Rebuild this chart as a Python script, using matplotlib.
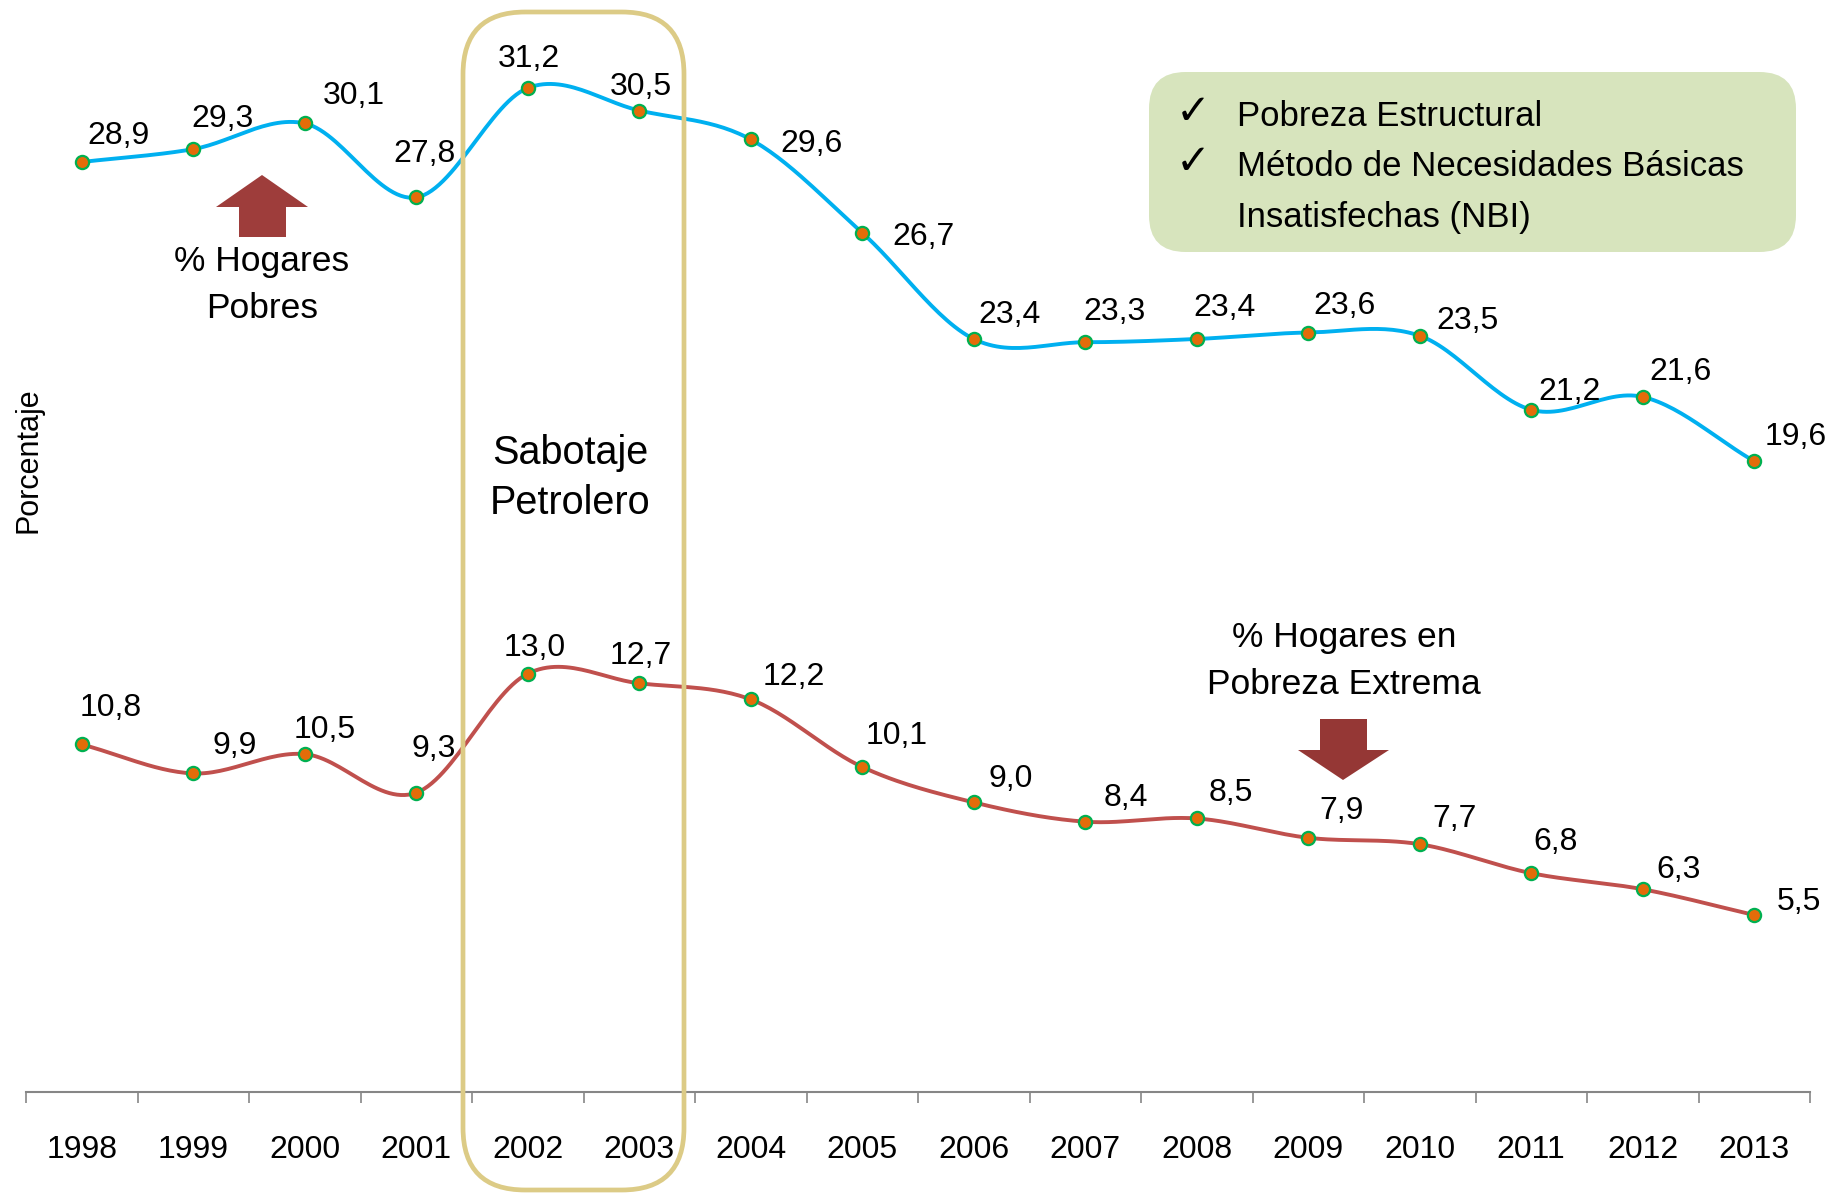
import numpy as np
import matplotlib
matplotlib.use("Agg")
import matplotlib.pyplot as plt
from matplotlib.patches import FancyBboxPatch, Polygon

plt.rcParams['font.family'] = ['Liberation Sans Narrow', 'Liberation Sans', 'DejaVu Sans']

years = ['1998', '1999', '2000', '2001', '2002', '2003', '2004', '2005',
         '2006', '2007', '2008', '2009', '2010', '2011', '2012', '2013']
pobres = [28.9, 29.3, 30.1, 27.8, 31.2, 30.5, 29.6, 26.7,
          23.4, 23.3, 23.4, 23.6, 23.5, 21.2, 21.6, 19.6]
extrema = [10.8, 9.9, 10.5, 9.3, 13.0, 12.7, 12.2, 10.1,
           9.0, 8.4, 8.5, 7.9, 7.7, 6.8, 6.3, 5.5]

# label offsets (pixels, right / up)
off_pobres = [(37, 26), (29, 30), (49, 27), (8, 43), (1, 29), (2, 24), (61, -5), (61, -4),
              (36, 24), (29, 30), (28, 31), (36, 27), (48, 15), (38, 18), (38, 25), (41, 24)]
off_extrema = [(29, 36), (41, 27), (20, 24), (17, 44), (7, 26), (1, 27), (43, 22), (34, 31),
               (37, 23), (41, 24), (34, 25), (33, 27), (35, 25), (24, 31), (36, 19), (45, 13)]

W, H = 1829, 1193
fig = plt.figure(figsize=(W / 100, H / 100), dpi=100)
ax = fig.add_axes([26 / W, 101 / H, (1810 - 26) / W, (H - 101) / H])


def smooth(y, n=30):
    # Catmull-Rom curve through the points (Excel style smoothed line)
    y = np.asarray(y, float)
    x = np.arange(len(y), dtype=float)
    px = np.concatenate([[2 * x[0] - x[1]], x, [2 * x[-1] - x[-2]]])
    py = np.concatenate([[2 * y[0] - y[1]], y, [2 * y[-1] - y[-2]]])
    xs, ys = [], []
    t = np.linspace(0, 1, n)
    for i in range(1, len(px) - 2):
        p0, p1, p2, p3 = px[i - 1], px[i], px[i + 1], px[i + 2]
        q0, q1, q2, q3 = py[i - 1], py[i], py[i + 1], py[i + 2]
        for a, b, c, d, out in ((p0, p1, p2, p3, xs), (q0, q1, q2, q3, ys)):
            out.extend(0.5 * (2 * b + (-a + c) * t + (2 * a - 5 * b + 4 * c - d) * t ** 2
                              + (-a + 3 * b - 3 * c + d) * t ** 3))
    return np.array(xs), np.array(ys)


x = np.arange(len(years))
for vals, col, offs in ((pobres, '#00B0F0', off_pobres), (extrema, '#C0504D', off_extrema)):
    sx, sy = smooth(vals)
    ax.plot(sx, sy, color=col, lw=2.8, zorder=3, solid_capstyle='round')
    ax.plot(x, vals, 'o', ms=9.5, mfc='#E36C09', mec='#00B050', mew=1.6, zorder=4)
    for xi, v, (dx, dy) in zip(x, vals, offs):
        ax.annotate(f'{v:.1f}'.replace('.', ','), (xi, v), xytext=(dx * 0.72, dy * 0.72),
                    textcoords='offset points', ha='center', va='center', fontsize=23, zorder=5)

ax.set_xlim(-0.5, len(years) - 0.5)
ax.set_ylim(0, 1092 / 32.18)
for s in ('top', 'right', 'left'):
    ax.spines[s].set_visible(False)
ax.spines['bottom'].set_color('#868686')
ax.spines['bottom'].set_linewidth(1.5)
ax.set_yticks([])
ax.set_xticks(np.arange(len(years) + 1) - 0.5)
ax.set_xticklabels([])
ax.set_xticks(x, minor=True)
ax.set_xticklabels(years, minor=True, fontsize=23)
ax.tick_params(axis='x', which='major', length=8, width=1.2, color='#868686')
ax.tick_params(axis='x', which='minor', length=0, pad=31)


def fp(px_, py_):
    return (px_ / W, 1 - py_ / H)


# Sabotaje box
bx0, by0, bx1, by1 = 463, 12, 684, 1190
fig.patches.append(FancyBboxPatch(fp(bx0, by1), (bx1 - bx0) / W, (by1 - by0) / H,
                                  boxstyle='round,pad=0,rounding_size=0.034',
                                  transform=fig.transFigure, fc='none', ec='#DCCB86',
                                  lw=3.4, zorder=6, mutation_aspect=W / H))
fig.text(*fp(570, 478), 'Sabotaje\nPetrolero', ha='center', va='center', fontsize=28.5,
         linespacing=1.4)

# green box
gx0, gy0, gx1, gy1 = 1149, 72, 1796, 252
fig.patches.append(FancyBboxPatch(fp(gx0, gy1), (gx1 - gx0) / W, (gy1 - gy0) / H,
                                  boxstyle='round,pad=0,rounding_size=0.02',
                                  transform=fig.transFigure, fc='#D7E4BD', ec='none',
                                  zorder=1, mutation_aspect=W / H))
fig.text(*fp(1193, 112), '✓', ha='center', va='center', fontsize=30, family='DejaVu Sans')
fig.text(*fp(1193, 162), '✓', ha='center', va='center', fontsize=30, family='DejaVu Sans')
fig.text(*fp(1237, 117), 'Pobreza Estructural', ha='left', va='center', fontsize=25)
fig.text(*fp(1237, 167), 'Método de Necesidades Básicas', ha='left', va='center', fontsize=25)
fig.text(*fp(1237, 218), 'Insatisfechas (NBI)', ha='left', va='center', fontsize=25)

# arrows
up = [(262, 175), (308, 207), (286, 207), (286, 237), (239, 237), (239, 207), (216, 207)]
fig.patches.append(Polygon([fp(*p) for p in up], closed=True, transform=fig.transFigure,
                           fc='#9E3D3B', ec='none'))
down = [(1343, 780), (1389, 750), (1367, 750), (1367, 719), (1320, 719), (1320, 750), (1298, 750)]
fig.patches.append(Polygon([fp(*p) for p in down], closed=True, transform=fig.transFigure,
                           fc='#953735', ec='none'))

fig.text(*fp(262, 285), '% Hogares\nPobres', ha='center', va='center', fontsize=25.5,
         linespacing=1.55)
fig.text(*fp(1344, 661), '% Hogares en\nPobreza Extrema', ha='center', va='center', fontsize=25.5,
         linespacing=1.55)
fig.text(*fp(29, 460), 'Porcentaje', ha='center', va='center', rotation=90, fontsize=22)

fig.savefig('out.png', dpi=100)
